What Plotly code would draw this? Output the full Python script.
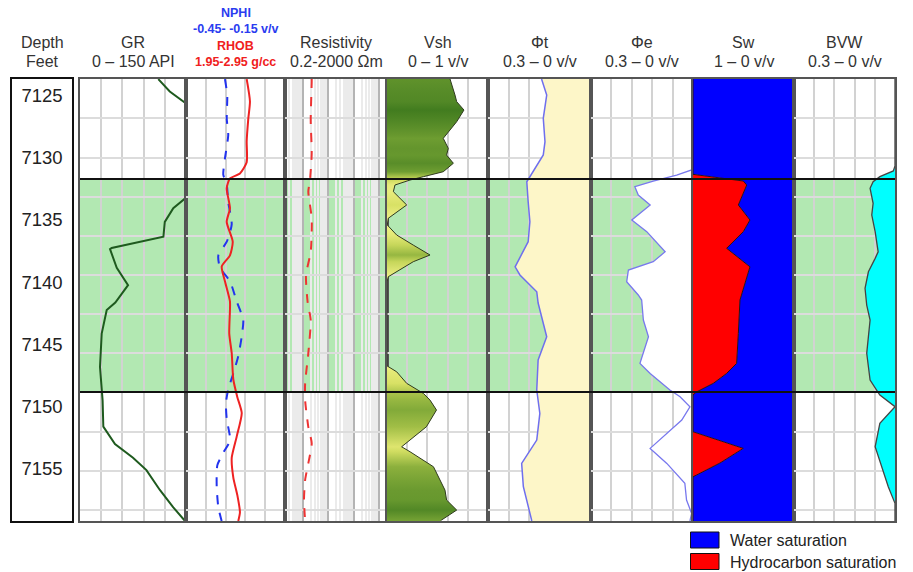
import math
import plotly.graph_objects as go

W, H = 913, 572
FONT = "Arial, 'Liberation Sans', sans-serif"

# ---------------- data ----------------
depth_labels = [7125, 7130, 7135, 7140, 7145, 7150, 7155]
depth_top, depth_bottom = 7123.49, 7159.1
zone_top, zone_bottom = 7131.55, 7148.7
grid_depth0, grid_step = 7126.66, 3.155

gr_depth = [7123.5, 7124.5, 7125.4, 7126.5, 7132.0, 7133.1, 7133.9, 7135.0, 7136.2, 7137.1, 7137.2,
            7138.7, 7140.1, 7141.5, 7142.1, 7144.0, 7146.7, 7149.4, 7151.5, 7152.9, 7154.0, 7155.0,
            7156.6, 7158.0, 7159.1]
gr = [110.8, 127, 148.6, 165, 165, 149, 132, 120, 118, 44.8, 42.5,
      52, 68, 50, 37.8, 30.7, 28.3, 32, 33, 49.5, 75, 94,
      113, 132, 148.6]

nphi_depth = [7123.5, 7124.8, 7126.7, 7128.0, 7129.9, 7131.2, 7132.0, 7133.4, 7135.2, 7136.6, 7137.7,
              7138.7, 7139.8, 7141.4, 7142.9, 7144.2, 7145.8, 7147.2, 7148.5, 7149.6, 7150.9, 7152.6,
              7153.6, 7154.6, 7156.3, 7158.0, 7159.1]
nphi = [0.214, 0.200, 0.203, 0.194, 0.214, 0.224, 0.203, 0.194, 0.173, 0.203, 0.254,
        0.244, 0.183, 0.143, 0.103, 0.112, 0.133, 0.163, 0.194, 0.208, 0.203, 0.183,
        0.224, 0.260, 0.264, 0.254, 0.234]

rhob_depth = [7123.5, 7125.3, 7126.7, 7128.5, 7130.2, 7131.1, 7131.5, 7132.3, 7133.9, 7135.0, 7136.6,
              7137.7, 7138.6, 7139.8, 7141.4, 7142.1, 7144.0, 7145.6, 7147.7, 7149.1, 7150.4, 7152.3,
              7154.0, 7155.6, 7157.0, 7158.4, 7159.1]
rhob = [2.563, 2.596, 2.579, 2.563, 2.563, 2.495, 2.394, 2.361, 2.394, 2.361, 2.422,
        2.394, 2.311, 2.344, 2.394, 2.394, 2.387, 2.412, 2.428, 2.468, 2.513, 2.462,
        2.412, 2.428, 2.468, 2.495, 2.478]

res_depth = [7123.49, 7123.71, 7126.79, 7129.48, 7131.63, 7132.57, 7134.72, 7137.41, 7139.28, 7141.5,
             7142.91, 7145.59, 7148.01, 7149.36, 7151.51, 7152.85, 7154.46, 7155.80, 7157.41, 7159.1]
res = [2.23, 2.23, 2.04, 2.23, 1.91, 1.64, 2.23, 2.04, 1.33, 1.55,
       2.04, 1.64, 1.23, 1.23, 1.64, 2.23, 1.64, 1.23, 1.11, 1.23]

vsh_depth = [7123.49, 7124.24, 7124.78, 7125.32, 7125.99, 7126.93, 7128.00, 7128.27, 7129.08, 7129.62,
             7130.28, 7130.96, 7131.36, 7131.63, 7132.03, 7132.57, 7133.64, 7134.71, 7135.25, 7136.06,
             7136.87, 7137.67, 7138.21, 7139.42, 7139.85, 7146.60, 7147.08, 7148.01, 7148.82, 7149.36,
             7150.16, 7151.51, 7153.12, 7153.52, 7154.73, 7155.80, 7156.61, 7157.41, 7158.22, 7159.02,
             7159.1]
vsh = [0.624, 0.657, 0.673, 0.690, 0.762, 0.690, 0.591, 0.557, 0.607, 0.590,
       0.657, 0.557, 0.360, 0.228, 0.079, 0.063, 0.195, 0.013, 0.003, 0.096,
       0.260, 0.426, 0.260, 0.013, 0.0, 0.0, 0.096, 0.195, 0.360, 0.426,
       0.490, 0.390, 0.145, 0.228, 0.460, 0.525, 0.574, 0.590, 0.690, 0.540,
       0.530]

phit_depth = [7123.49, 7124.78, 7126.66, 7128.54, 7129.61, 7130.96, 7131.77, 7133.38, 7134.99, 7136.60,
              7138.62, 7139.28, 7140.63, 7141.54, 7144.26, 7146.13, 7148.55, 7150.43, 7152.58, 7154.46,
              7156.34, 7159.02, 7159.1]
phit = [0.144, 0.129, 0.139, 0.134, 0.139, 0.168, 0.187, 0.183, 0.178, 0.183,
        0.221, 0.207, 0.158, 0.154, 0.129, 0.154, 0.158, 0.149, 0.158, 0.202,
        0.197, 0.173, 0.173]

phie_depth = [7123.49, 7130.5, 7130.82, 7131.23, 7131.71, 7132.17, 7132.84, 7133.64, 7134.85, 7135.79,
              7137.41, 7138.21, 7138.88, 7139.82, 7140.89, 7141.30, 7142.91, 7144.26, 7146.40, 7147.21,
              7148.55, 7149.09, 7149.90, 7150.97, 7153.25, 7154.46, 7156.07, 7157.41, 7158.49, 7159.1]
phie = [0.0, 0.0, 0.004, 0.048, 0.117, 0.171, 0.161, 0.126, 0.180, 0.136,
        0.082, 0.117, 0.190, 0.195, 0.161, 0.151, 0.146, 0.131, 0.156, 0.126,
        0.068, 0.038, 0.009, 0.033, 0.126, 0.077, 0.024, 0.019, 0.004, 0.009]

sw_depth = [7123.49, 7131.17, 7131.71, 7132.03, 7133.64, 7134.85, 7135.79, 7137.13, 7138.62, 7140.36,
            7141.30, 7143.98, 7146.40, 7147.21, 7148.01, 7148.69, 7148.95, 7151.91, 7153.25, 7154.43,
            7155.54, 7159.1]
sw = [1.0, 1.0, 0.502, 0.468, 0.551, 0.436, 0.502, 0.667, 0.436, 0.502,
      0.535, 0.551, 0.568, 0.667, 0.799, 0.963, 1.0, 1.0, 0.502, 0.733,
      1.0, 1.0]

bvw_depth = [7123.49, 7130.5, 7130.90, 7131.36, 7131.77, 7132.30, 7133.51, 7134.45, 7135.79, 7137.41,
             7137.94, 7139.02, 7140.36, 7141.70, 7142.91, 7145.59, 7147.74, 7148.95, 7149.89, 7151.23,
             7153.12, 7155.00, 7156.34, 7157.68, 7159.1]
bvw = [0.0, 0.0, 0.005, 0.045, 0.065, 0.074, 0.065, 0.069, 0.059, 0.050,
       0.059, 0.079, 0.089, 0.084, 0.074, 0.084, 0.074, 0.045, 0.0, 0.045,
       0.059, 0.035, 0.020, 0.0, 0.0]

track_titles = ["GR", None, "Resistivity", "Vsh", "Φt", "Φe", "Sw", "BVW"]
track_scales = ["0 – 150 API", None, "0.2-2000 Ωm", "0 – 1 v/v", "0.3 – 0 v/v",
                "0.3 – 0 v/v", "1 – 0 v/v", "0.3 – 0 v/v"]
nphi_rhob_header = [("NPHI", "#2a3cf0"), ("-0.45- -0.15 v/v", "#2a3cf0"),
                    ("RHOB", "#f02020"), ("1.95-2.95 g/cc", "#f02020")]
legend_items = [("Water saturation", "#0000ff"), ("Hydrocarbon saturation", "#ff0000")]

# ---------------- layout geometry ----------------
track_px = [80, 186, 285, 387, 488, 591, 693, 794, 895]
depth_px = [12, 72]
ydom = [1 - 521 / H, 1 - 79 / H]

axis_defs = [
    ([0, 150], "linear", 0, 30),
    ([0.45, -0.15], "linear", -0.15, 0.12),
    ([math.log10(0.2), math.log10(2000)], "log", 0, 1),
    ([0, 1], "linear", 0, 0.2),
    ([0.3, 0], "linear", 0, 0.06),
    ([0.3, 0], "linear", 0, 0.06),
    ([1, 0], "linear", 0, 0.2),
    ([0.3, 0], "linear", 0, 0.06),
]

layout = dict(
    width=W, height=H, margin=dict(l=0, r=0, t=0, b=0),
    paper_bgcolor="white", plot_bgcolor="white", showlegend=False,
    font=dict(family=FONT, color="#333"),
    shapes=[], annotations=[],
)

layout["xaxis"] = dict(domain=[depth_px[0] / W, depth_px[1] / W], range=[0, 1], anchor="y",
                       showgrid=False, zeroline=False, showticklabels=False, ticks="",
                       showline=True, mirror=True, linecolor="#111", linewidth=1.5, fixedrange=True)
layout["yaxis"] = dict(domain=ydom, range=[depth_bottom, depth_top], anchor="x",
                       showgrid=False, zeroline=False, showticklabels=False, ticks="",
                       showline=True, mirror=True, linecolor="#111", linewidth=1.5, fixedrange=True)

for i, (rng, typ, t0, dt) in enumerate(axis_defs):
    n = i + 2
    xa = dict(domain=[track_px[i] / W, track_px[i + 1] / W], anchor=f"y{n}", type=typ, range=rng,
              showgrid=True, gridcolor="#d2d2d2", gridwidth=1.6, tick0=t0, dtick=dt,
              zeroline=False, showticklabels=False, ticks="",
              showline=True, mirror=True, linecolor="#555", linewidth=1.5, fixedrange=True)
    if typ == "log":
        xa["gridcolor"] = "#b4b4b4"
        xa["gridwidth"] = 2
        xa["minor"] = dict(showgrid=True, dtick="D1", gridcolor="#ebebeb", gridwidth=1.5, ticks="")
    layout[f"xaxis{n}"] = xa
    layout[f"yaxis{n}"] = dict(domain=ydom, range=[depth_bottom, depth_top], anchor=f"x{n}",
                               matches="y", showgrid=True, gridcolor="#dcdcdc", gridwidth=1.6,
                               tick0=grid_depth0, dtick=grid_step, zeroline=False,
                               showticklabels=False, ticks="", showline=True, mirror=True,
                               linecolor="#555", linewidth=1.5, fixedrange=True)
    layout["shapes"].append(dict(type="rect", xref=f"x{n} domain", yref=f"y{n}", x0=0, x1=1,
                                 y0=zone_top, y1=zone_bottom, fillcolor="#b2e8b2",
                                 line=dict(width=0), layer="below"))

# RHOB overlay axis on the NPHI track
layout["xaxis10"] = dict(domain=[track_px[1] / W, track_px[2] / W], overlaying="x3", anchor="y3",
                         range=[1.95, 2.95], visible=False, fixedrange=True)

for zd in (zone_top, zone_bottom):
    layout["shapes"].append(dict(type="line", xref="paper", yref="y", x0=track_px[0] / W,
                                 x1=track_px[-1] / W, y0=zd, y1=zd,
                                 line=dict(color="#111", width=2), layer="above"))

traces = []

traces.append(go.Scatter(x=[0.5] * len(depth_labels), y=depth_labels, mode="text",
                         text=[str(d) for d in depth_labels],
                         textfont=dict(size=18.5, color="#222", family=FONT),
                         xaxis="x", yaxis="y", cliponaxis=False, hoverinfo="skip"))

traces.append(go.Scatter(x=gr, y=gr_depth, mode="lines", line=dict(color="#1e5a1e", width=2),
                         xaxis="x2", yaxis="y2"))
traces.append(go.Scatter(x=nphi, y=nphi_depth, mode="lines",
                         line=dict(color="#2233ee", width=2, dash="dash", shape="spline", smoothing=0.6),
                         xaxis="x3", yaxis="y3"))
traces.append(go.Scatter(x=rhob, y=rhob_depth, mode="lines",
                         line=dict(color="#ee2222", width=2, shape="spline", smoothing=0.6),
                         xaxis="x10", yaxis="y3"))
traces.append(go.Scatter(x=res, y=res_depth, mode="lines",
                         line=dict(color="#ee3333", width=2, dash="dash", shape="spline", smoothing=0.6),
                         xaxis="x4", yaxis="y4"))


def lerp_color(v):
    anchors = [(0.0, (240, 240, 135)), (0.2, (215, 225, 100)), (0.4, (158, 188, 68)),
               (0.55, (112, 158, 50)), (0.8, (58, 118, 28))]
    if v <= anchors[0][0]:
        c = anchors[0][1]
    elif v >= anchors[-1][0]:
        c = anchors[-1][1]
    else:
        for (a0, c0), (a1, c1) in zip(anchors[:-1], anchors[1:]):
            if a0 <= v <= a1:
                t = (v - a0) / (a1 - a0)
                c = tuple(round(c0[k] + (c1[k] - c0[k]) * t) for k in range(3))
                break
    return f"rgb({c[0]},{c[1]},{c[2]})"


d0, d1 = vsh_depth[0], vsh_depth[-1]
vsh_cs = [[(d - d0) / (d1 - d0), lerp_color(v)] for d, v in zip(vsh_depth, vsh)]
traces.append(go.Scatter(x=vsh, y=vsh_depth, mode="lines", fill="tozerox",
                         fillgradient=dict(type="vertical", colorscale=vsh_cs, start=d0, stop=d1),
                         line=dict(color="#2e3a1e", width=1), xaxis="x5", yaxis="y5"))

traces.append(go.Scatter(x=phit, y=phit_depth, mode="lines", fill="tozerox", fillcolor="#fdf6c8",
                         line=dict(color="#6f6fee", width=1.5), xaxis="x6", yaxis="y6"))
traces.append(go.Scatter(x=phie, y=phie_depth, mode="lines", fill="tozerox", fillcolor="white",
                         line=dict(color="#7878ee", width=1.3), xaxis="x7", yaxis="y7"))
traces.append(go.Scatter(x=[1.0] * len(sw_depth), y=sw_depth, mode="lines",
                         line=dict(width=0, color="rgba(0,0,0,0)"), xaxis="x8", yaxis="y8"))
traces.append(go.Scatter(x=sw, y=sw_depth, mode="lines", fill="tonextx", fillcolor="#ff0000",
                         name="Hydrocarbon saturation", line=dict(color="#301010", width=1),
                         xaxis="x8", yaxis="y8"))
traces.append(go.Scatter(x=[0.0] * len(sw_depth), y=sw_depth, mode="lines", fill="tonextx",
                         fillcolor="#0000ff", name="Water saturation",
                         line=dict(width=0, color="rgba(0,0,0,0)"), xaxis="x8", yaxis="y8"))
traces.append(go.Scatter(x=bvw, y=bvw_depth, mode="lines", fill="tozerox", fillcolor="#00ffff",
                         line=dict(color="#444", width=1.3), xaxis="x9", yaxis="y9"))

# ---------------- headers ----------------
def ann(text, xpx, ypx, size, color, xanchor="center"):
    return dict(text=text, x=xpx / W, y=1 - ypx / H, xref="paper", yref="paper",
                xanchor=xanchor, yanchor="middle", showarrow=False,
                font=dict(size=size, color=color, family=FONT))


layout["annotations"].append(ann("Depth", 42, 42, 16, "#333"))
layout["annotations"].append(ann("Feet", 42, 62, 16, "#333"))
for i, (t, s) in enumerate(zip(track_titles, track_scales)):
    cx = (track_px[i] + track_px[i + 1]) / 2
    if t is None:
        for j, (txt, col) in enumerate(nphi_rhob_header):
            layout["annotations"].append(ann(f"<b>{txt}</b>", cx, [13, 29, 46, 62][j], 12.5, col))
        continue
    layout["annotations"].append(ann(t, cx, 42, 16, "#333"))
    layout["annotations"].append(ann(s, cx, 62, 16, "#333"))

# ---------------- legend ----------------
for k, (txt, col) in enumerate(legend_items):
    top = 532 + k * 21.5
    layout["shapes"].append(dict(type="rect", xref="paper", yref="paper", x0=690.5 / W, x1=719 / W,
                                 y0=1 - (top + 16) / H, y1=1 - top / H, fillcolor=col,
                                 line=dict(color="#111", width=1)))
    layout["annotations"].append(ann(txt, 728, top + 8.5, 16, "#222", xanchor="left"))

fig = go.Figure(data=traces, layout=layout)
fig.write_html("out.html")
